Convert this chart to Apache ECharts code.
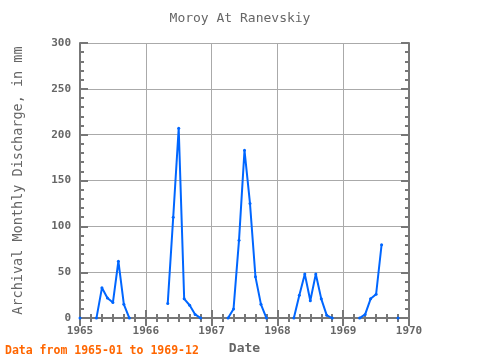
<!DOCTYPE html>
<html><head><meta charset="utf-8">
<script src="https://cdn.jsdelivr.net/npm/echarts@6/dist/echarts.min.js"></script>
<style>html,body{margin:0;padding:0;background:#fff}#c{width:480px;height:360px}</style>
</head><body><div id="c"></div>
<script>
var months = [
 '1965-01','1965-02','1965-03','1965-04','1965-05','1965-06','1965-07','1965-08','1965-09','1965-10','1965-11','1965-12',
 '1966-01','1966-02','1966-03','1966-04','1966-05','1966-06','1966-07','1966-08','1966-09','1966-10','1966-11','1966-12',
 '1967-01','1967-02','1967-03','1967-04','1967-05','1967-06','1967-07','1967-08','1967-09','1967-10','1967-11','1967-12',
 '1968-01','1968-02','1968-03','1968-04','1968-05','1968-06','1968-07','1968-08','1968-09','1968-10','1968-11','1968-12',
 '1969-01','1969-02','1969-03','1969-04','1969-05','1969-06','1969-07','1969-08','1969-09','1969-10','1969-11','1969-12'];
var discharge = [
 0,null,null,0,33,22,17,62,15,0,null,null,
 null,null,null,null,16,110,207,21,14,4,0,null,
 null,null,null,0,10,85,183,125,45,15,0,null,
 null,null,null,0,25,48,19,48,21,3,0,null,
 null,null,null,0,4,21,26,80,null,null,0,null];
var yearTicks = [1965,1966,1967,1968,1969,1970];

var pts = months.map(function(m,i){
  var p = m.split('-');
  var x = +p[0] + (+p[1]-1)/12;
  return [x, discharge[i]===null ? '-' : discharge[i]];
});
var mono = 'DejaVu Sans Mono';
var frame = {show:true, lineStyle:{color:'#777', width:2}};
var chart = echarts.init(document.getElementById('c'));
chart.setOption({
  animation:false,
  backgroundColor:'#fff',
  title:{text:'Moroy At Ranevskiy', left:'center', top:7,
    textStyle:{fontFamily:mono, fontSize:13, fontWeight:'normal', color:'#666'}},
  graphic:[{type:'text', left:5, top:345,
    style:{text:'Data from 1965-01 to 1969-12', fontFamily:mono, fontSize:11.5, fontWeight:'bold', fill:'#ff6600'}}],
  grid:{left:80, right:71, top:43, bottom:39},
  xAxis:[{type:'value', min:1965, max:1970, interval:1, position:'bottom',
    name:'Date', nameLocation:'middle', nameGap:21,
    nameTextStyle:{fontFamily:mono, fontSize:13, fontWeight:'bold', color:'#666'},
    axisLine:frame,
    axisTick:{show:true, inside:true, length:8, lineStyle:{color:'#777', width:2}},
    minorTick:{show:true, splitNumber:6, length:4, lineStyle:{color:'#777', width:2}},
    axisLabel:{fontFamily:mono, fontSize:11, fontWeight:'bold', color:'#666', margin:8,
      formatter:function(v){return String(v);}},
    splitLine:{show:true, lineStyle:{color:'#aaa', width:1}}},
   {type:'value', min:1965, max:1970, interval:1, position:'top',
    axisLine:frame,
    axisTick:{show:true, inside:true, length:8, lineStyle:{color:'#777', width:2}},
    minorTick:{show:true, splitNumber:6, length:4, lineStyle:{color:'#777', width:2}},
    axisLabel:{show:false}, splitLine:{show:false}}],
  yAxis:[{type:'value', min:0, max:300, interval:50, position:'left',
    name:'Archival Monthly Discharge, in mm', nameLocation:'middle', nameGap:55,
    nameTextStyle:{fontFamily:mono, fontSize:13.5, fontWeight:'normal', color:'#666'},
    axisLine:frame,
    axisTick:{show:true, inside:true, length:8, lineStyle:{color:'#777', width:2}},
    minorTick:{show:true, splitNumber:5, length:4, lineStyle:{color:'#777', width:2}},
    axisLabel:{fontFamily:mono, fontSize:11, fontWeight:'bold', color:'#666', margin:9},
    splitLine:{show:true, lineStyle:{color:'#aaa', width:1}}},
   {type:'value', min:0, max:300, interval:50, position:'right',
    axisLine:frame,
    axisTick:{show:true, inside:true, length:8, lineStyle:{color:'#777', width:2}},
    minorTick:{show:true, splitNumber:5, length:4, lineStyle:{color:'#777', width:2}},
    axisLabel:{show:false}, splitLine:{show:false}}],
  series:[{type:'line', xAxisIndex:0, yAxisIndex:0, data:pts,
    connectNulls:false, showSymbol:true, symbol:'circle', symbolSize:3,
    lineStyle:{color:'#0066ff', width:2}, itemStyle:{color:'#0066ff'}}]
});
</script></body></html>
